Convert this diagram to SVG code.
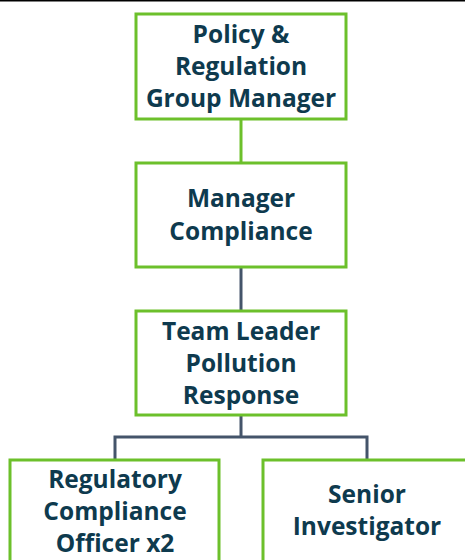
<svg xmlns="http://www.w3.org/2000/svg" width="465" height="560" viewBox="0 0 465 560">
<style>
.box{fill:#fff;stroke:#6CC02B;stroke-width:3}
.t{font-family:"Open Sans","Noto Sans",sans-serif;font-weight:bold;font-size:24.5px;fill:#0E3A4E;text-anchor:middle}
.c{fill:none;stroke:#44546A;stroke-width:3}
</style>
<rect width="465" height="560" fill="#fff"/>
<line x1="0" y1="0.5" x2="465" y2="0.5" stroke="#000" stroke-width="2"/>
<g id="connectors">
<line x1="241" y1="119" x2="241" y2="163" stroke="#6CC02B" stroke-width="3"/>
<line class="c" x1="241" y1="267" x2="241" y2="311"/>
<path class="c" d="M241 415V437M115 459V437H367V459"/>
</g>
<g id="n1"><rect class="box" x="136" y="14" width="210" height="105"/>
<text class="t"><tspan x="241" y="43">Policy &amp;</tspan><tspan x="241" y="75">Regulation</tspan><tspan x="241" y="107">Group Manager</tspan></text></g>
<g id="n2"><rect class="box" x="136" y="163" width="210" height="104"/>
<text class="t"><tspan x="241" y="207">Manager</tspan><tspan x="241" y="240">Compliance</tspan></text></g>
<g id="n3"><rect class="box" x="136" y="311" width="210" height="104"/>
<text class="t"><tspan x="241" y="340">Team Leader</tspan><tspan x="241" y="372">Pollution</tspan><tspan x="241" y="404">Response</tspan></text></g>
<g id="n4"><rect class="box" x="10" y="460" width="209" height="110"/>
<text class="t"><tspan x="115" y="488">Regulatory</tspan><tspan x="115" y="520">Compliance</tspan><tspan x="115" y="552">Officer x2</tspan></text></g>
<g id="n5"><rect class="box" x="263" y="460" width="209" height="110"/>
<text class="t"><tspan x="367" y="503">Senior</tspan><tspan x="367" y="535">Investigator</tspan></text></g>
</svg>
